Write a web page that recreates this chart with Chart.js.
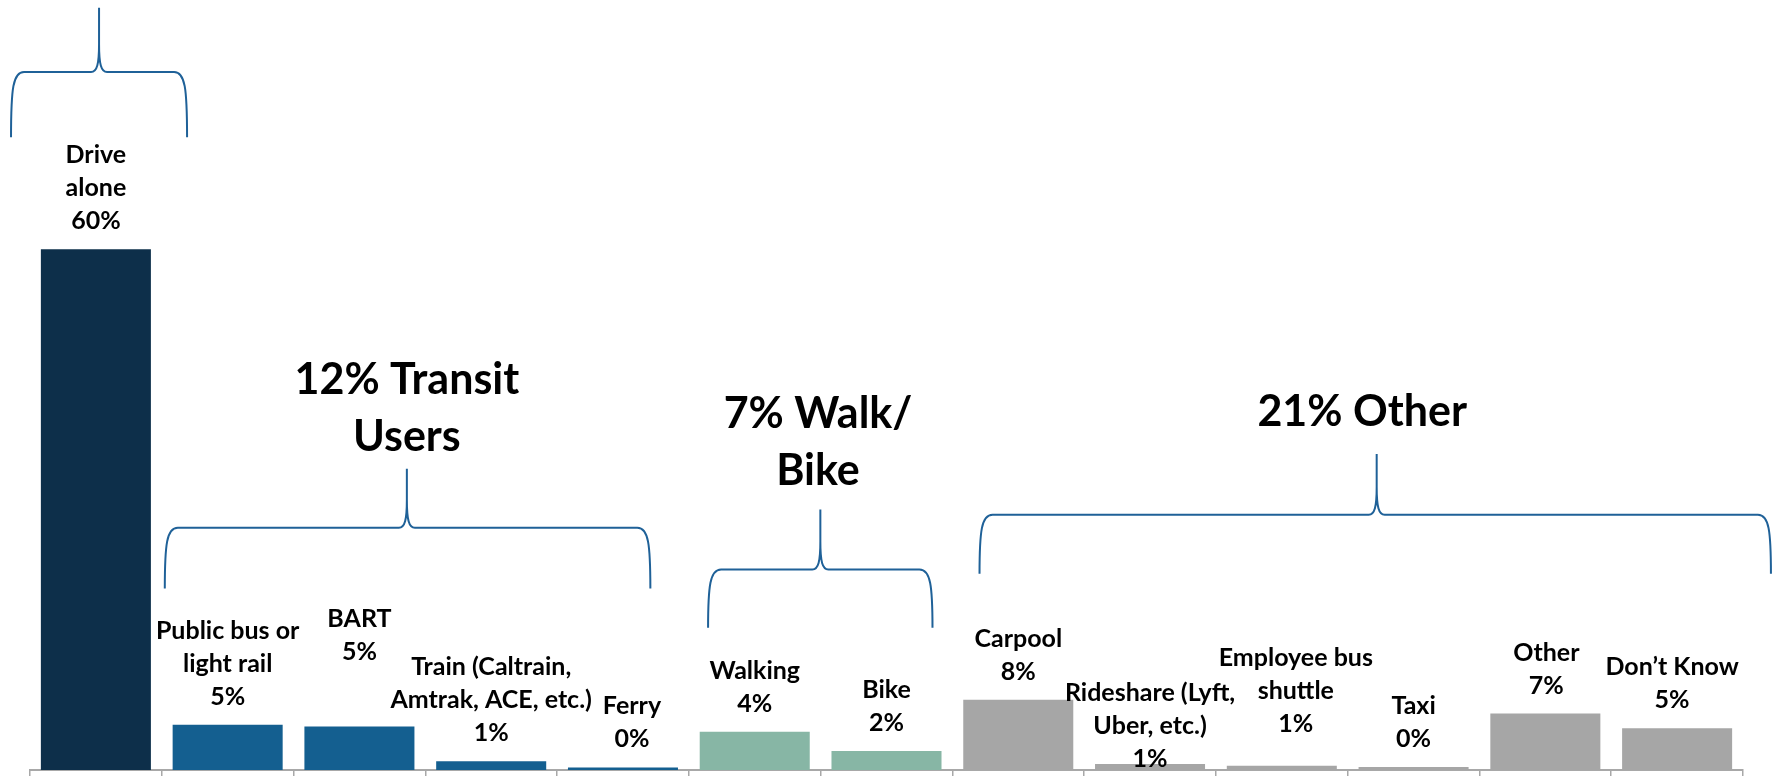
<!DOCTYPE html>
<html>
<head>
<meta charset="utf-8">
<title>Commute mode share</title>
<script src="https://cdn.jsdelivr.net/npm/chart.js@4.4.1/dist/chart.umd.min.js"></script>
<style>
    html, body { margin: 0; padding: 0; background: #fff; }
    #wrap { width: 1781px; height: 776px; }
</style>
</head>
<body>
<div id="wrap"><canvas id="modeChart" width="1781" height="776"></canvas></div>
<script>
// Category names, split into the lines shown above each bar
const categories = [
    ['Drive', 'alone'],
    ['Public bus or', 'light rail'],
    ['BART'],
    ['Train (Caltrain,', 'Amtrak, ACE, etc.)'],
    ['Ferry'],
    ['Walking'],
    ['Bike'],
    ['Carpool'],
    ['Rideshare (Lyft,', 'Uber, etc.)'],
    ['Employee bus', 'shuttle'],
    ['Taxi'],
    ['Other'],
    ['Don\u2019t Know']
];

// Share of respondents (%)
const shares = [60, 5.2, 5.0, 1.0, 0.3, 4.4, 2.2, 8.1, 0.7, 0.5, 0.35, 6.5, 4.8];

// Which group each bar belongs to
const barGroup = ['drive', 'transit', 'transit', 'transit', 'transit', 'walk', 'walk',
                  'other', 'other', 'other', 'other', 'other', 'other'];

// Group headings
const groupTitles = {
    transit: ['12% Transit', 'Users'],
    walk: ['7% Walk/', 'Bike'],
    other: ['21% Other']
};

const groupColors = {
    drive: '#0d2f4a',
    transit: '#145f90',
    walk: '#87b6a5',
    other: '#a6a6a6'
};

// Manual nudges of a few value labels [dx px, dy px]
const labelNudge = [[0,0],[0,0],[0,-47],[0,0],[9,0],[0,0],[0,0],[0,0],[0,23],[14,-14],[0,0],[1,0],[-5,0]];

// Brace layout: x in category index units, y in % units
const braces = [
    { group: 'drive',   left: -0.644, right: 0.692, mid: 0.024, bottom: 72.9, bar: 80.4, top: 87.8 },
    { group: 'transit', left: 0.523,  right: 4.208, mid: 2.36,  bottom: 20.9, bar: 27.9, top: 34.7, titleX: 2.36, titleY: 38.4 },
    { group: 'walk',    left: 4.646,  right: 6.349, mid: 5.498, bottom: 16.4, bar: 23.1, top: 30.0, titleX: 5.48, titleY: 34.4 },
    { group: 'other',   left: 6.706,  right: 12.712, mid: 9.72, bottom: 22.6, bar: 29.4, top: 36.4, titleX: 9.61, titleY: 41.2 }
];

const FONT = 'Lato, "Open Sans", sans-serif';

function drawBrace(ctx, xL, xR, xC, yB, yH, yT) {
    ctx.beginPath();
    // left half
    ctx.moveTo(xL, yB);
    ctx.bezierCurveTo(xL, yH + 16, xL + 2, yH, xL + 13, yH);
    ctx.lineTo(xC - 8, yH);
    ctx.bezierCurveTo(xC - 2, yH, xC, yH - 8, xC, yH - 28);
    ctx.lineTo(xC, yT);
    // right half
    ctx.moveTo(xC, yH - 28);
    ctx.bezierCurveTo(xC, yH - 8, xC + 2, yH, xC + 8, yH);
    ctx.lineTo(xR - 13, yH);
    ctx.bezierCurveTo(xR - 2, yH, xR, yH + 16, xR, yB);
    ctx.stroke();
}

const annotations = {
    id: 'annotations',
    afterDatasetsDraw(chart) {
        const ctx = chart.ctx;
        const xs = chart.scales.x;
        const ys = chart.scales.y;
        const meta = chart.getDatasetMeta(0);

        ctx.save();
        ctx.fillStyle = '#000';
        ctx.textAlign = 'center';
        ctx.textBaseline = 'middle';

        // value labels above bars
        ctx.font = 'bold 25px ' + FONT;
        meta.data.forEach((bar, i) => {
            const lines = categories[i].concat([Math.round(shares[i]) + '%']);
            const x = bar.x + labelNudge[i][0];
            let y = bar.y - 28 + labelNudge[i][1];
            for (let k = lines.length - 1; k >= 0; k--) {
                ctx.fillText(lines[k], x, y);
                y -= 33;
            }
        });

        // braces and group headings
        ctx.strokeStyle = '#1f6198';
        ctx.lineWidth = 2;
        braces.forEach(b => {
            drawBrace(ctx,
                xs.getPixelForValue(b.left), xs.getPixelForValue(b.right), xs.getPixelForValue(b.mid),
                ys.getPixelForValue(b.bottom), ys.getPixelForValue(b.bar), ys.getPixelForValue(b.top));
            const title = groupTitles[b.group];
            if (!title) return;
            ctx.font = 'bold 43px ' + FONT;
            const tx = xs.getPixelForValue(b.titleX);
            let ty = ys.getPixelForValue(b.titleY);
            for (let k = title.length - 1; k >= 0; k--) {
                ctx.fillText(title[k], tx, ty);
                ty -= 57;
            }
        });
        ctx.restore();
    }
};

const ctx = document.getElementById('modeChart').getContext('2d');
new Chart(ctx, {
    type: 'bar',
    data: {
        labels: categories.map(c => c.join(' ')),
        datasets: [{
            data: shares,
            backgroundColor: barGroup.map(g => groupColors[g]),
            borderWidth: 0,
            categoryPercentage: 1,
            barPercentage: 0.835
        }]
    },
    options: {
        responsive: false,
        animation: false,
        devicePixelRatio: 1,
        layout: { padding: { left: 30, right: 38, top: 0, bottom: 0 } },
        plugins: { legend: { display: false }, tooltip: { enabled: false } },
        scales: {
            x: {
                grid: { display: true, drawOnChartArea: false, drawTicks: true, tickLength: 6, offset: true, color: '#a8a8a8', lineWidth: 1.5 },
                border: { display: true, color: '#a8a8a8', width: 2 },
                ticks: { display: false }
            },
            y: {
                display: false,
                min: 0,
                max: 88.7
            }
        }
    },
    plugins: [annotations]
});
</script>
</body>
</html>
